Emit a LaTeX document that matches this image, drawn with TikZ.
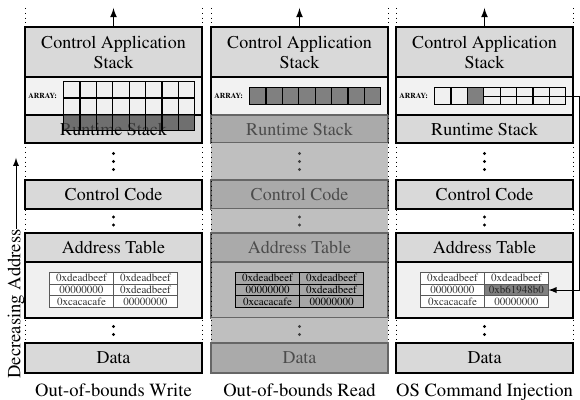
\documentclass[tikz,border=0pt]{standalone}
\usepackage[T1]{fontenc}
\usepackage{mathptmx}
\usetikzlibrary{positioning, matrix, arrows}
\tikzstyle{sec} = [draw, line width=1pt, fill=gray!30, rectangle, minimum width=88.5pt, outer sep=0pt, inner sep=1pt, font=\fontsize{9}{10}\selectfont]
\tikzstyle{secdim} = [sec, fill=gray!67, draw=black!60, text=black!70]
\tikzstyle{areg} = [sec, fill=gray!10]
\tikzstyle{treg} = [sec, fill=gray!12]
\tikzstyle{tregdim} = [secdim, fill=gray!55]
\tikzstyle{gap} = [rectangle, minimum width=88.5pt, outer sep=0pt]
\tikzstyle{gapdim} = [gap, fill=gray!50]
\tikzstyle{dot} = [fill=black]
\tikzstyle{dotdim} = [fill=black!75]
\tikzstyle{arrlabel} = [inner sep=0pt, font=\fontsize{3.8}{4}\selectfont\bfseries]
\tikzstyle{caption} = [inner sep=0pt, font=\fontsize{9.3}{10}\selectfont]
\tikzstyle{grid} = [matrix of nodes, nodes in empty cells, inner sep=0pt, outer sep=0pt, column sep=-0.6pt, row sep=-0.6pt, nodes={draw, line width=0.6pt, fill=gray!12, minimum width=8.2pt, minimum height=8.2pt, inner sep=0pt, outer sep=0pt}]
\tikzstyle{addr} = [matrix of nodes, inner sep=0pt, outer sep=0pt, column sep=-0.5pt, row sep=-0.5pt, nodes={draw=black!65, line width=0.5pt, fill=white, text=black!80, minimum width=32pt, minimum height=5.9pt, inner sep=0pt, outer sep=0pt, font=\fontsize{5.5}{6}\selectfont}]
\tikzstyle{addrdim} = [addr, nodes={draw=black, fill=gray!70, text=black}]

\begin{document}
\begin{tikzpicture}
	\useasboundingbox (0,0) rectangle (290pt,200pt);
	\coordinate (top) at (0,196pt);
	\foreach \c/\x/\d/\lab in {1/12.5//Out-of-bounds Write, 2/105.5/dim/Out-of-bounds Read, 3/198//OS Command Injection}{
		\node[sec, anchor=north west, minimum height=25pt, align=center] (cas\c) at (\x pt,186.5pt) {Control Application\\Stack};
		\node[areg, minimum height=19pt, below=0pt of cas\c] (reg\c) {};
		\node[arrlabel, right=1.5pt] at (reg\c.west) {ARRAY:};
		\node[sec\d, minimum height=14pt, below=0pt of reg\c] (rs\c) {Runtime Stack};
		\node[gap\d, minimum height=18.5pt, below=0pt of rs\c] (gapa\c) {};
		\node[sec\d, minimum height=14.5pt, below=0pt of gapa\c] (cc\c) {Control Code};
		\node[gap\d, minimum height=12pt, below=0pt of cc\c] (gapb\c) {};
		\node[sec\d, minimum height=14.5pt, below=0pt of gapb\c] (adr\c) {Address Table};
		\node[treg\d, minimum height=28pt, below=0pt of adr\c] (treg\c) {};
		\node[gap\d, minimum height=12.5pt, below=0pt of treg\c] (gapc\c) {};
		\node[sec\d, minimum height=15pt, below=0pt of gapc\c] (data\c) {Data};
		\node[caption, below=5pt of data\c] (cap\c) {\lab};
		% dots between the regions
		\foreach \dy in {-4,0,4} \fill[dot\d] ([yshift=\dy pt]gapa\c.center) circle (0.8pt);
		\foreach \dy in {-2,2} \fill[dot\d] ([yshift=\dy pt]gapb\c.center) circle (0.8pt);
		\foreach \dy in {-2,2} \fill[dot\d] ([yshift=\dy pt]gapc\c.center) circle (0.8pt);
		\draw[dotted] (cas\c.north west |- top) -- (data\c.north west);
		\draw[dotted] (cas\c.north east |- top) -- (data\c.north east);
		\draw[-latex, semithick] (cas\c.north) -- (cas\c.north |- top);
	}
	% arrays
	\matrix (arr1) [grid, anchor=south west, row 3/.style={nodes={fill=black!70, fill opacity=0.75}}] at ([xshift=19pt,yshift=-8.2pt]reg1.south west) {
		&&&&&&&\\
		&&&&&&&\\
		&&&&&&&\\
	};
	\matrix (arr2) [grid, anchor=west, nodes={fill=gray}] at ([xshift=19pt]reg2.west) {
		&&&&&&&\\
	};
	\matrix (arr3) [grid, anchor=west, column 3/.style={nodes={fill=gray}}] at ([xshift=19pt]reg3.west) {
		&&&&&&&\\
	};
	% address tables
	\matrix (tab1) [addr] at (treg1) {
		0xdeadbeef & 0xdeadbeef \\
		00000000 & 0xdeadbeef \\
		0xcacacafe & 00000000 \\
	};
	\matrix (tab2) [addrdim] at (treg2) {
		0xdeadbeef & 0xdeadbeef \\
		00000000 & 0xdeadbeef \\
		0xcacacafe & 00000000 \\
	};
	\matrix (tab3) [addr, row 2 column 2/.style={nodes={fill=gray, text=black!85}}] at (treg3) {
		0xdeadbeef & 0xdeadbeef \\
		00000000 & 0xb61948b0 \\
		0xcacacafe & 00000000 \\
	};
	\coordinate (bend) at ([xshift=3pt]reg3.east);
	\draw[-latex] (arr3-1-3.east) -- (arr3-1-3.east -| bend) |- (tab3-2-2.east);
	\node[caption, rotate=90] (dec) at (8pt,48pt) {Decreasing Address};
	\coordinate (dectip) at (8pt,121pt);
	\draw[-latex] (dec.east) -- (dec.east |- dectip);
\end{tikzpicture}
\end{document}
